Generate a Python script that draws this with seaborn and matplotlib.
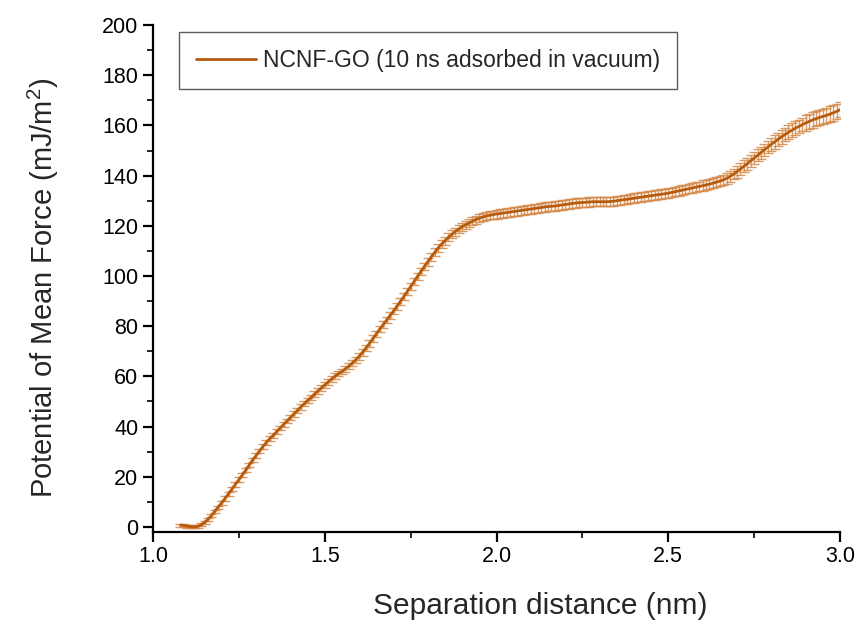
import numpy as np
import pandas as pd
import matplotlib
matplotlib.use("Agg")
import matplotlib.pyplot as plt
import seaborn as sns

# separation distance grid (nm), 0.01 nm steps
distance = np.round(np.arange(1.08, 3.0001, 0.01), 2)

# PMF values (mJ/m^2)
pmf = [
    0.7, 0.6, 0.3, 0.1, 0.0, 0.2, 0.8, 1.8, 3.0, 4.5, 6.2, 7.9,
    9.6, 11.4, 13.2, 15.1, 17.0, 18.8, 20.7, 22.6, 24.6, 26.6,
    28.4, 30.2, 32.0, 33.7, 35.2, 36.5, 38.0, 39.4, 40.8, 42.2,
    43.6, 45.0, 46.4, 47.8, 49.1, 50.4, 51.6, 52.9, 54.2, 55.4,
    56.6, 57.8, 59.0, 60.1, 61.1, 62.0, 63.0, 64.1, 65.3, 66.6,
    68.0, 69.6, 71.3, 73.1, 75.0, 76.9, 78.8, 80.6, 82.4, 84.2,
    86.0, 87.9, 89.8, 91.8, 93.8, 95.8, 97.8, 99.8, 101.8, 103.8,
    105.7, 107.6, 109.4, 111.1, 112.7, 114.1, 115.4, 116.6, 117.7, 118.7,
    119.6, 120.4, 121.1, 121.8, 122.5, 123.0, 123.5, 123.9, 124.2, 124.5,
    124.7, 124.9, 125.1, 125.3, 125.5, 125.7, 125.9, 126.1, 126.3, 126.5,
    126.7, 126.9, 127.1, 127.3, 127.5, 127.7, 127.8, 127.9, 128.1, 128.3,
    128.5, 128.7, 128.9, 129.1, 129.2, 129.3, 129.4, 129.5, 129.6, 129.6,
    129.6, 129.6, 129.6, 129.7, 129.8, 130.0, 130.2, 130.4, 130.6, 130.8,
    131.0, 131.2, 131.4, 131.6, 131.8, 132.0, 132.2, 132.4, 132.6, 132.8,
    133.0, 133.3, 133.6, 133.9, 134.2, 134.5, 134.8, 135.1, 135.4, 135.7,
    136.0, 136.3, 136.6, 137.0, 137.4, 137.8, 138.3, 138.9, 139.7, 140.6,
    141.6, 142.6, 143.7, 144.8, 145.9, 147.0, 148.1, 149.2, 150.3, 151.4,
    152.5, 153.5, 154.5, 155.5, 156.4, 157.3, 158.1, 158.9, 159.6, 160.3,
    161.0, 161.6, 162.2, 162.7, 163.2, 163.6, 164.0, 164.5, 165.0, 165.6,
    166.3,
]

# error bar half-widths
pmf_err = [
    0.6, 0.6, 0.6, 0.6, 0.6, 0.6, 0.6, 0.6, 0.6, 0.6, 0.6, 0.6,
    0.9, 0.9, 0.9, 0.9, 0.9, 0.9, 0.9, 0.9, 0.9, 0.9,
    0.9, 0.9, 0.9, 0.9, 0.9, 0.9, 0.9, 0.9, 0.9, 0.9,
    1.1, 1.1, 1.1, 1.1, 1.1, 1.1, 1.1, 1.1, 1.1, 1.1,
    1.1, 1.1, 1.1, 1.1, 1.1, 1.1, 1.1, 1.1, 1.1, 1.1,
    1.3, 1.3, 1.3, 1.3, 1.3, 1.3, 1.3, 1.3, 1.3, 1.3,
    1.3, 1.3, 1.3, 1.3, 1.3, 1.3, 1.3, 1.3, 1.3, 1.3,
    1.6, 1.6, 1.6, 1.6, 1.6, 1.6, 1.6, 1.6, 1.6, 1.6,
    1.6, 1.6, 1.6, 1.6, 1.6, 1.6, 1.6, 1.6, 1.6, 1.6,
    1.8, 1.8, 1.8, 1.8, 1.8, 1.8, 1.8, 1.8, 1.8, 1.8,
    1.8, 1.8, 1.8, 1.8, 1.8, 1.8, 1.8, 1.8, 1.8, 1.8,
    1.8, 1.8, 1.8, 1.8, 1.8, 1.8, 1.8, 1.8, 1.8, 1.8,
    1.8, 1.8, 1.8, 1.8, 1.8, 1.8, 1.8, 1.8, 1.8, 1.8,
    1.9, 1.9, 1.9, 1.9, 1.9, 1.9, 1.9, 1.9, 1.9, 1.9,
    1.9, 1.9, 1.9, 1.9, 1.9, 1.9, 1.9, 1.9, 1.9, 1.9,
    2.1, 2.1, 2.1, 2.1, 2.1, 2.1, 2.1, 2.1, 2.1, 2.1,
    2.4, 2.4, 2.4, 2.4, 2.4, 2.4, 2.4, 2.4, 2.4, 2.4,
    2.7, 2.7, 2.7, 2.7, 2.7, 2.7, 2.7, 2.7, 2.7, 2.7,
    3.1, 3.1, 3.1, 3.1, 3.1, 3.1, 3.1, 3.1, 3.1, 3.1,
    3.1,
]

series_label = "NCNF-GO (10 ns adsorbed in vacuum)"
line_color = "#B65A0C"
err_color = "#D4894A"

df = pd.DataFrame({"distance": distance, "pmf": pmf, "err": pmf_err})

sns.set_style("ticks")
plt.rcParams["font.family"] = ["Liberation Sans", "DejaVu Sans"]
plt.rcParams["mathtext.fontset"] = "custom"
plt.rcParams["mathtext.rm"] = "Liberation Sans"
plt.rcParams["mathtext.it"] = "Liberation Sans:italic"

fig = plt.figure(figsize=(8.62, 6.28), dpi=100)
ax = fig.add_axes([0.1775, 0.153, 0.797, 0.807])

# error bars first (lighter), then the mean curve on top
ax.errorbar(df["distance"], df["pmf"], yerr=df["err"], fmt="none",
            ecolor=err_color, elinewidth=1.0, capsize=3.8, capthick=1.0,
            alpha=0.85, zorder=2)
sns.lineplot(data=df, x="distance", y="pmf", color=line_color, linewidth=2,
             label=series_label, ax=ax, zorder=3)

ax.set_xlim(1.0, 3.0)
ax.set_ylim(-2, 200)
ax.set_xticks([1.0, 1.5, 2.0, 2.5, 3.0])
ax.set_xticks(np.arange(1.0, 3.01, 0.25), minor=True)
ax.set_yticks(np.arange(0, 201, 20))
ax.set_yticks(np.arange(0, 201, 10), minor=True)
ax.xaxis.set_major_formatter(plt.FormatStrFormatter("%.1f"))

ax.tick_params(which="major", direction="out", length=7, width=1.6,
               labelsize=15.5, colors="black")
ax.tick_params(which="minor", direction="out", length=4, width=1.4)
for side in ["left", "bottom"]:
    ax.spines[side].set_linewidth(1.6)
    ax.spines[side].set_color("black")
sns.despine(ax=ax)

ax.set_xlabel("Separation distance (nm)", fontsize=21.5, labelpad=20)
ax.set_ylabel("Potential of Mean Force (mJ/m$^2$)", fontsize=21, labelpad=30)
# the original labels sit a bit off-centre
ax.xaxis.set_label_coords(0.563, -0.118)
ax.yaxis.get_label().set_y(0.481)

leg = ax.legend(loc="upper left", bbox_to_anchor=(0.038, 0.987),
                borderaxespad=0, fontsize=16.5, frameon=True, fancybox=False,
                handlelength=2.6, handletextpad=0.3, borderpad=0.75)
leg.get_frame().set_edgecolor("#333333")
leg.get_frame().set_linewidth(1.0)

fig.savefig("out.png", dpi=100)
